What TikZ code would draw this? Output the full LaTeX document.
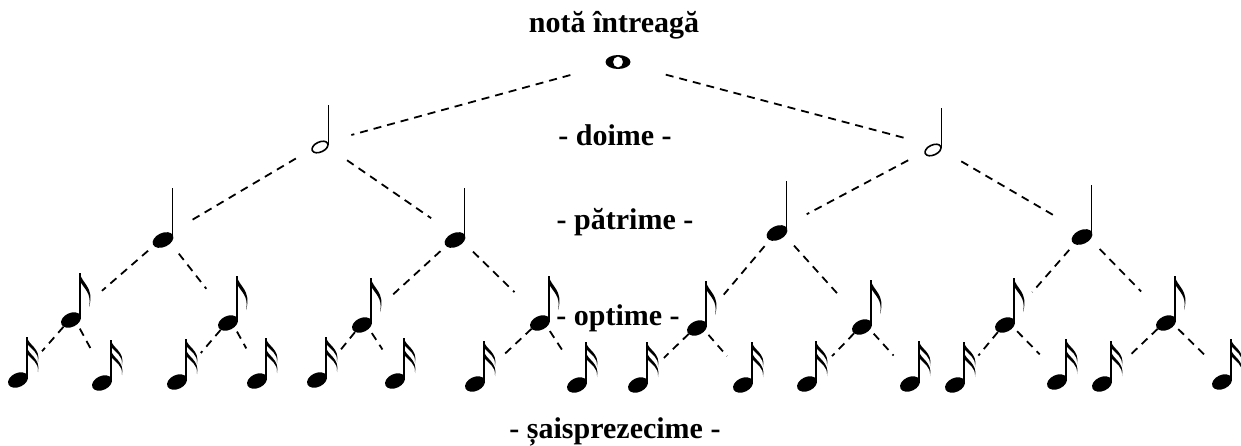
\documentclass[tikz,border=0pt]{standalone}
\usepackage{fontspec}
\setmainfont{Liberation Serif}
\tikzset{
  link/.style={dash pattern=on 4pt off 3pt, line width=0.9pt},
  hub/.style={circle, minimum size=#1, inner sep=0pt},
  lbl/.style={font=\bfseries\fontsize{15}{17}\selectfont, inner sep=0pt},
  whole/.pic={
    \fill[even odd rule] (0,0) ellipse (12.5 and 7) (0,0) ellipse (5 and 5.5);
    \node[hub=49pt] (-out) at (0,0) {};
  },
  half/.pic={
    \draw[line width=0.8pt, rotate=25] (0,0) ellipse (8.5 and 5);
    \draw[line width=0.7pt] (8.5,-2) -- (8.5,-42);
    \node[hub=30pt] (-in) at (2,-4) {};
    \node[hub=30pt] (-out) at (2,-4) {};
  },
  quarter/.pic={
    \fill[rotate=25] (0,0) ellipse (11 and 7);
    \draw[line width=0.8pt] (9.5,-3) -- (9.5,-52);
    \node[hub=31pt] (-in) at (2,-4) {};
    \node[hub=22pt] (-out) at (2,-4) {};
  },
  eighth/.pic={
    \fill[rotate=25] (0,0) ellipse (10.5 and 7);
    \draw[line width=0.9pt] (9,-3) -- (9,-47);
    \fill (9,-47) .. controls (10,-37) and (24,-33) .. (18,-13) .. controls (21,-27) and (13,-31) .. (9,-39) -- cycle;
    \node[hub=38pt] (-in) at (2,-4) {};
    \node[hub=14pt] (-out) at (2,-4) {};
  },
  sixteenth/.pic={
    \fill[rotate=25] (0,0) ellipse (10.5 and 7);
    \draw[line width=0.9pt] (9,-3) -- (9,-43);
    \fill (9,-43) .. controls (10,-35) and (23,-32) .. (20,-18) .. controls (21,-28) and (13,-31) .. (9,-36) -- cycle;
    \fill (9,-33) .. controls (10,-25) and (23,-22) .. (20,-8) .. controls (21,-18) and (13,-21) .. (9,-26) -- cycle;
    \node[hub=30pt] (-in) at (4,-6) {};
  }
}
\begin{document}
\begin{tikzpicture}[x=0.5pt, y=-0.5pt]
\useasboundingbox (0,0) rectangle (1241,445);
% labels
\node[lbl] (title) at (614,25) {notă întreagă};
\node[lbl] (lhalf) at (615,135) {- doime -};
\node[lbl] (lquarter) at (625,222) {- pătrime -};
\node[lbl] (leighth) at (618,318) {- optime -};
\node[lbl] (lsixteenth) at (615,432) {- șaisprezecime -};
% whole and halves
\pic (w) at (618,62) {whole};
\pic (h1) at (320,147) {half};
\pic (h2) at (933,150) {half};
\draw[link] (w-out) -- (h1-in);
\draw[link] (w-out) -- (h2-in);
% quarters
\pic (q1) at (163,240) {quarter};
\pic (q2) at (455,240) {quarter};
\pic (q3) at (777,233) {quarter};
\pic (q4) at (1082,237) {quarter};
\draw[link] (h1-out) -- (q1-in);
\draw[link] (h1-out) -- (q2-in);
\draw[link] (h2-out) -- (q3-in);
\draw[link] (h2-out) -- (q4-in);
% eighths
\pic (e1) at (71,320) {eighth};
\pic (e2) at (228,323) {eighth};
\pic (e3) at (362,325) {eighth};
\pic (e4) at (540,323) {eighth};
\pic (e5) at (697,328) {eighth};
\pic (e6) at (862,327) {eighth};
\pic (e7) at (1005,325) {eighth};
\pic (e8) at (1166,323) {eighth};
\draw[link] (q1-out) -- (e1-in);
\draw[link] (q1-out) -- (e2-in);
\draw[link] (q2-out) -- (e3-in);
\draw[link] (q2-out) -- (e4-in);
\draw[link] (q3-out) -- (e5-in);
\draw[link] (q3-out) -- (e6-in);
\draw[link] (q4-out) -- (e7-in);
\draw[link] (q4-out) -- (e8-in);
% sixteenths
\pic (s1) at (18,380) {sixteenth};
\pic (s2) at (102,383) {sixteenth};
\pic (s3) at (177,382) {sixteenth};
\pic (s4) at (257,381) {sixteenth};
\pic (s5) at (317,380) {sixteenth};
\pic (s6) at (395,381) {sixteenth};
\pic (s7) at (475,384) {sixteenth};
\pic (s8) at (577,385) {sixteenth};
\pic (s9) at (638,385) {sixteenth};
\pic (s10) at (743,385) {sixteenth};
\pic (s11) at (807,384) {sixteenth};
\pic (s12) at (910,384) {sixteenth};
\pic (s13) at (955,385) {sixteenth};
\pic (s14) at (1057,382) {sixteenth};
\pic (s15) at (1102,384) {sixteenth};
\pic (s16) at (1222,382) {sixteenth};
\draw[link] (e1-out) -- (s1-in);
\draw[link] (e1-out) -- (s2-in);
\draw[link] (e2-out) -- (s3-in);
\draw[link] (e2-out) -- (s4-in);
\draw[link] (e3-out) -- (s5-in);
\draw[link] (e3-out) -- (s6-in);
\draw[link] (e4-out) -- (s7-in);
\draw[link] (e4-out) -- (s8-in);
\draw[link] (e5-out) -- (s9-in);
\draw[link] (e5-out) -- (s10-in);
\draw[link] (e6-out) -- (s11-in);
\draw[link] (e6-out) -- (s12-in);
\draw[link] (e7-out) -- (s13-in);
\draw[link] (e7-out) -- (s14-in);
\draw[link] (e8-out) -- (s15-in);
\draw[link] (e8-out) -- (s16-in);
\end{tikzpicture}
\end{document}
